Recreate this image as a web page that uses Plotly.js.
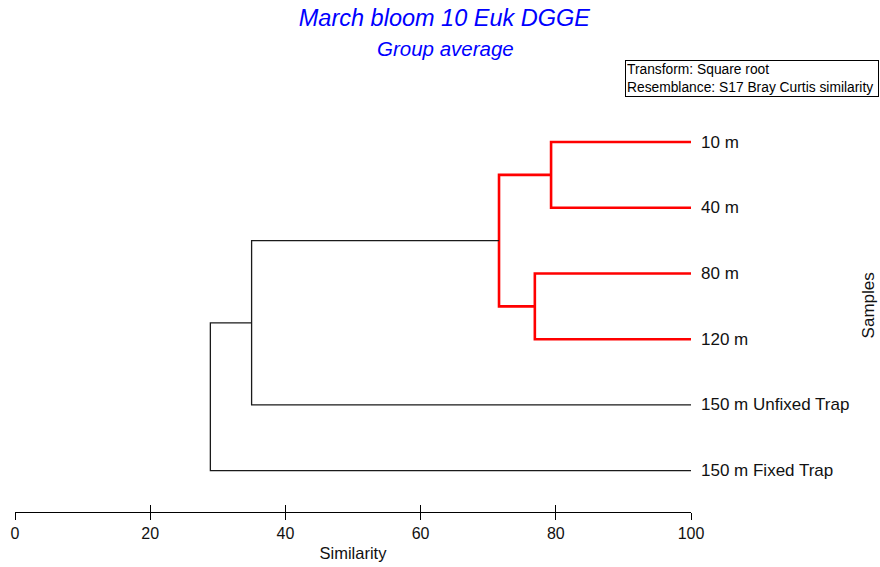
<!DOCTYPE html>
<html>
<head>
<meta charset="utf-8">
<script src="https://cdn.plot.ly/plotly-3.0.1.min.js"></script>
<style>html,body{margin:0;padding:0;background:#fff;}#chart{width:880px;height:567px;}</style>
</head>
<body>
<div id="chart"></div>
<script>
// ---- data ----
const leafLabels = ["10 m", "40 m", "80 m", "120 m", "150 m Unfixed Trap", "150 m Fixed Trap"];
// merges: children refer to leaf index (0..5) or cluster id ("c0".."c4")
const mergeLeft  = [0, 2, "c0", "c2", "c3"];
const mergeRight = [1, 3, "c1", 4, 5];
const mergeSimilarity = [79.3, 76.9, 71.6, 35.0, 28.9];
const simprofGroup = [true, true, true, false, false]; // red = not separated by SIMPROF
const tickValues = [0, 20, 40, 60, 80, 100];
const titleText = "March bloom 10 Euk DGGE";
const subtitleText = "Group average";
const legendText = ["Transform: Square root", "Resemblance: S17 Bray Curtis similarity"];

// ---- build dendrogram ----
const nodeX = {}, nodeY = {};
leafLabels.forEach((l, i) => { nodeX[i] = 100; nodeY[i] = i; });
const traces = [];
mergeSimilarity.forEach((h, k) => {
  const a = mergeLeft[k], b = mergeRight[k];
  const col = simprofGroup[k] ? "#ff0000" : "#1a1a1a";
  const w = simprofGroup[k] ? 2.6 : 1.3;
  traces.push({
    type: "scatter", mode: "lines", hoverinfo: "skip", showlegend: false,
    x: [nodeX[a], h, h, nodeX[b]],
    y: [nodeY[a], nodeY[a], nodeY[b], nodeY[b]],
    line: {color: col, width: w}
  });
  nodeX["c" + k] = h;
  nodeY["c" + k] = (nodeY[a] + nodeY[b]) / 2;
});
// invisible trace for the second (inside-tick) axis
traces.push({type: "scatter", mode: "markers", x: [0], y: [0], xaxis: "x2", yaxis: "y",
  marker: {opacity: 0}, hoverinfo: "skip", showlegend: false});

const FONT = "Liberation Sans, Arial, sans-serif";
const annotations = leafLabels.map((t, i) => ({
  x: 100, y: i, xref: "x", yref: "y", text: t, showarrow: false,
  xanchor: "left", yanchor: "middle", xshift: 8,
  font: {family: FONT, size: 17, color: "#111"}
}));
annotations.push({
  xref: "paper", yref: "paper", x: 1.2785, y: 1.053, xanchor: "right", yanchor: "middle",
  text: legendText.join("<br>"), width: 250,
  align: "left", showarrow: false, bgcolor: "#fff", bordercolor: "#000", borderwidth: 1, borderpad: 1,
  font: {family: FONT, size: 13.8, color: "#000"}
});
annotations.push({
  xref: "paper", yref: "paper", x: 1.2624, y: 0.5024, xanchor: "center", yanchor: "middle",
  text: "Samples", textangle: -90, showarrow: false,
  font: {family: FONT, size: 17, color: "#111"}
});
annotations.push({
  xref: "paper", yref: "paper", x: 0.6364, y: 1.126, xanchor: "center", yanchor: "middle",
  text: "<i>" + subtitleText + "</i>", showarrow: false,
  font: {family: FONT, size: 20.5, color: "#0000ff"}
});

const layout = {
  width: 880, height: 567,
  margin: {l: 15, r: 189.3, t: 100, b: 55},
  paper_bgcolor: "#fff", plot_bgcolor: "#fff",
  font: {family: FONT, color: "#111"},
  title: {
    text: "<i>" + titleText + "</i>",
    x: 0.505, xanchor: "center", xref: "container", y: 0.968, yanchor: "middle", yref: "container",
    font: {family: FONT, size: 23.5, color: "#0000ff"}
  },
  xaxis: {
    range: [0, 100], tickvals: tickValues, ticktext: tickValues.map(String),
    ticks: "outside", ticklen: 7, tickcolor: "#000", tickwidth: 1,
    showline: true, linecolor: "#000", linewidth: 1, showgrid: false, zeroline: false,
    tickfont: {family: FONT, size: 16, color: "#111"},
    title: {text: "Similarity", font: {family: FONT, size: 16.5, color: "#111"}, standoff: 6},
    fixedrange: true
  },
  xaxis2: {
    overlaying: "x", matches: "x", side: "bottom", anchor: "y",
    range: [0, 100], tickvals: tickValues, ticks: "inside", ticklen: 7, tickcolor: "#000", tickwidth: 1,
    showticklabels: false, showline: false, showgrid: false, zeroline: false
  },
  yaxis: {
    range: [5.628, -0.639], visible: false, showgrid: false, zeroline: false, fixedrange: true
  },
  annotations: annotations,
  showlegend: false
};
Plotly.newPlot("chart", traces, layout, {displayModeBar: false, staticPlot: true});
</script>
</body>
</html>
